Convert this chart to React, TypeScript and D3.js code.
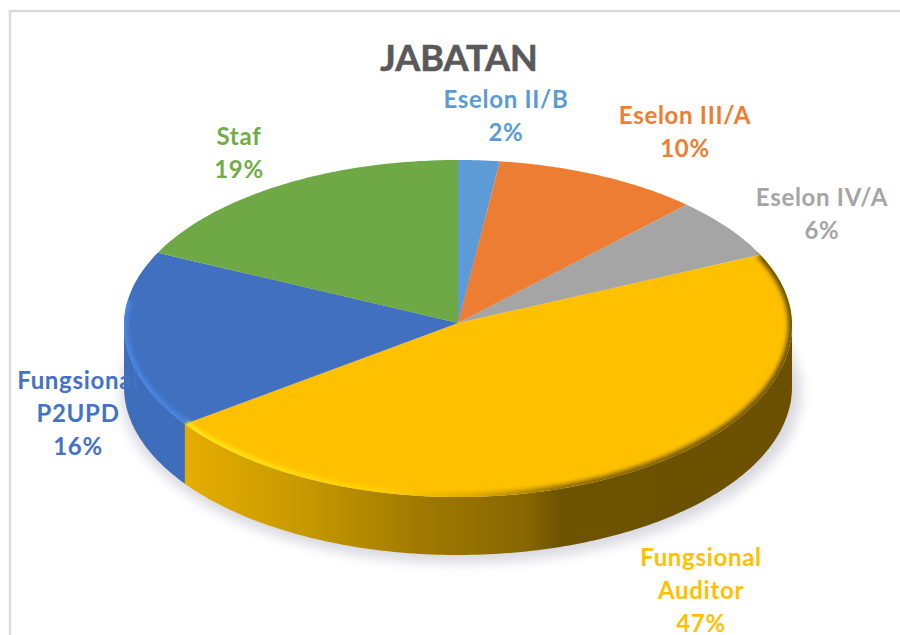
import React from "react";
import * as d3 from "d3";

const categories = ["Eselon II/B", "Eselon III/A", "Eselon IV/A", "Fungsional Auditor", "Fungsional P2UPD", "Staf"];
const values = [2, 10, 6, 47, 16, 19];
const colors = ["#5B9BD5", "#ED7D31", "#A5A5A5", "#FFC000", "#4472C4", "#70AD47"];
const labelLines = [["Eselon II/B", "2%"], ["Eselon III/A", "10%"], ["Eselon IV/A", "6%"], ["Fungsional", "Auditor", "47%"], ["Fungsional", "P2UPD", "16%"], ["Staf", "19%"]];
const labelCenters = [506, 685, 822, 701, 78, 239];
const labelBaselines = [108, 124, 206, 566, 389, 145];
const title = "JABATAN";

const W = 900, H = 635;
const apex: [number, number] = [458, 323];
const cx = 458, rx = 334;
const cyTop = 325, ryBack = 165, ryFront = 172, cyBottom = 387, ryBottom = 168;
// the picture's perspective shifts the left slice boundaries slightly
const warp = (a: number) => {
  const t = a - 1.5 * Math.PI, u = a - Math.PI;
  if (t > 0) return a + ((6.4 * Math.PI) / 180) * Math.sin(2 * t);
  return u > 0 ? a + ((0.9 * Math.PI) / 180) * Math.sin(2 * u) : a;
};
const rim = (a0: number): [number, number] => {
  const a = warp(a0), c = Math.cos(a);
  return [cx + rx * Math.sin(a), cyTop - (c > 0 ? ryBack : ryFront) * c];
};
const rimBottom = (a0: number): [number, number] => {
  const a = warp(a0);
  return [cx + rx * Math.sin(a), cyBottom - ryBottom * Math.cos(a)];
};
const line = d3.line();
const pie = d3.pie<number>().sort(null).value((d) => d);
const arcs = pie(values);
const samples = (a0: number, a1: number) => {
  const n = Math.max(2, Math.ceil(Math.abs(a1 - a0) * 60));
  return d3.range(n + 1).map((i) => a0 + ((a1 - a0) * i) / n);
};
const topPath = (a0: number, a1: number) => line([apex, ...samples(a0, a1).map(rim)]) + "Z";
const sidePath = (a0: number, a1: number) => {
  const f = Math.max(a0, Math.PI / 2), t = Math.min(a1, (3 * Math.PI) / 2);
  if (t <= f) return null;
  return line([...samples(f, t).map(rim), ...samples(t, f).map(rimBottom)]) + "Z";
};
const rimStroke = (a0: number, a1: number) => line(samples(a0, a1).map(rim));
const xScale = d3.scaleLinear().domain([cx - rx, cx + rx]).range([0, 1]);
const font = "Lato, Carlito, sans-serif";

export default function App() {
  return (
    <svg width={W} height={H} viewBox={`0 0 ${W} ${H}`} style={{ position: "absolute", left: 0, top: 0, background: "#fff" }}>
      <defs>
        <filter id="blurS" x="-10%" y="-10%" width="120%" height="120%"><feGaussianBlur stdDeviation="6" /></filter>
        <filter id="blurR" x="-10%" y="-10%" width="120%" height="120%"><feGaussianBlur stdDeviation="2" /></filter>
        <filter id="soft" x="-5%" y="-5%" width="110%" height="110%"><feGaussianBlur stdDeviation="0.5" /></filter>
        <linearGradient id="sideY" gradientUnits="userSpaceOnUse" x1={cx - rx} x2={cx + rx} y1="0" y2="0">
          <stop offset={xScale(185)} stopColor="#E6AD00" />
          <stop offset={xScale(300)} stopColor="#C89A00" />
          <stop offset={xScale(420)} stopColor="#A07A00" />
          <stop offset={xScale(525)} stopColor="#876700" />
          <stop offset={xScale(560)} stopColor="#6E5400" />
          <stop offset={xScale(792)} stopColor="#6A5000" />
        </linearGradient>
        <linearGradient id="rimY" gradientUnits="userSpaceOnUse" x1={cx - rx} x2={cx + rx} y1="0" y2="0">
          <stop offset={xScale(185)} stopColor="#FFE71A" />
          <stop offset={xScale(380)} stopColor="#FFD000" />
          <stop offset={xScale(470)} stopColor="#DDAA00" />
          <stop offset={xScale(570)} stopColor="#8A6800" />
          <stop offset={xScale(792)} stopColor="#6A5000" />
        </linearGradient>
        <clipPath id="topClip"><path d={topPath(0, 2 * Math.PI)} /></clipPath>
      </defs>
      <rect x={10} y={11} width={W} height={H} fill="#fff" stroke="#D9D9D9" strokeWidth={2.5} />
      <ellipse cx={cx + 3} cy={cyBottom + 5} rx={rx + 6} ry={ryBottom + 3} fill="#BFBFCC" opacity={0.6} filter="url(#blurS)" />
      {arcs.map((d, i) => {
        const p = sidePath(d.startAngle, d.endAngle);
        return p && <path key={categories[i]} d={p} fill={i === 3 ? "url(#sideY)" : i === 4 ? "#3E6DBB" : colors[i]} />;
      })}
      <g filter="url(#soft)">
        {arcs.map((d, i) => (
          <path key={categories[i]} d={topPath(d.startAngle, d.endAngle)} fill={i === 5 ? "#6EA944" : i === 4 ? "#4170BF" : colors[i]} />
        ))}
      </g>
      <g clipPath="url(#topClip)">
        {arcs.map((d, i) =>
          i === 3 ? (
            <path key="r3" d={rimStroke(d.startAngle, d.endAngle) as string} fill="none" stroke="url(#rimY)" strokeWidth={8} filter="url(#blurR)" />
          ) : i === 4 ? (
            <path key="r4" d={rimStroke(d.startAngle, d.startAngle + (d.endAngle - d.startAngle) * 0.75) as string} fill="none" stroke="#4A86E4" strokeWidth={8} filter="url(#blurR)" />
          ) : null
        )}
      </g>
      <text x={459} y={71} textAnchor="middle" fontFamily={font} fontWeight={700} fontSize={36} fill="#595959" stroke="#595959" strokeWidth={0.6}>{title}</text>
      {labelLines.map((lines, i) => (
        <text key={categories[i]} textAnchor="middle" fontFamily={font} fontWeight={700} fontSize={24} letterSpacing={0.7} fill={colors[i]}>
          {lines.map((t, j) => (
            <tspan key={j} x={labelCenters[i]} y={labelBaselines[i] + j * 33}>{t}</tspan>
          ))}
        </text>
      ))}
    </svg>
  );
}
